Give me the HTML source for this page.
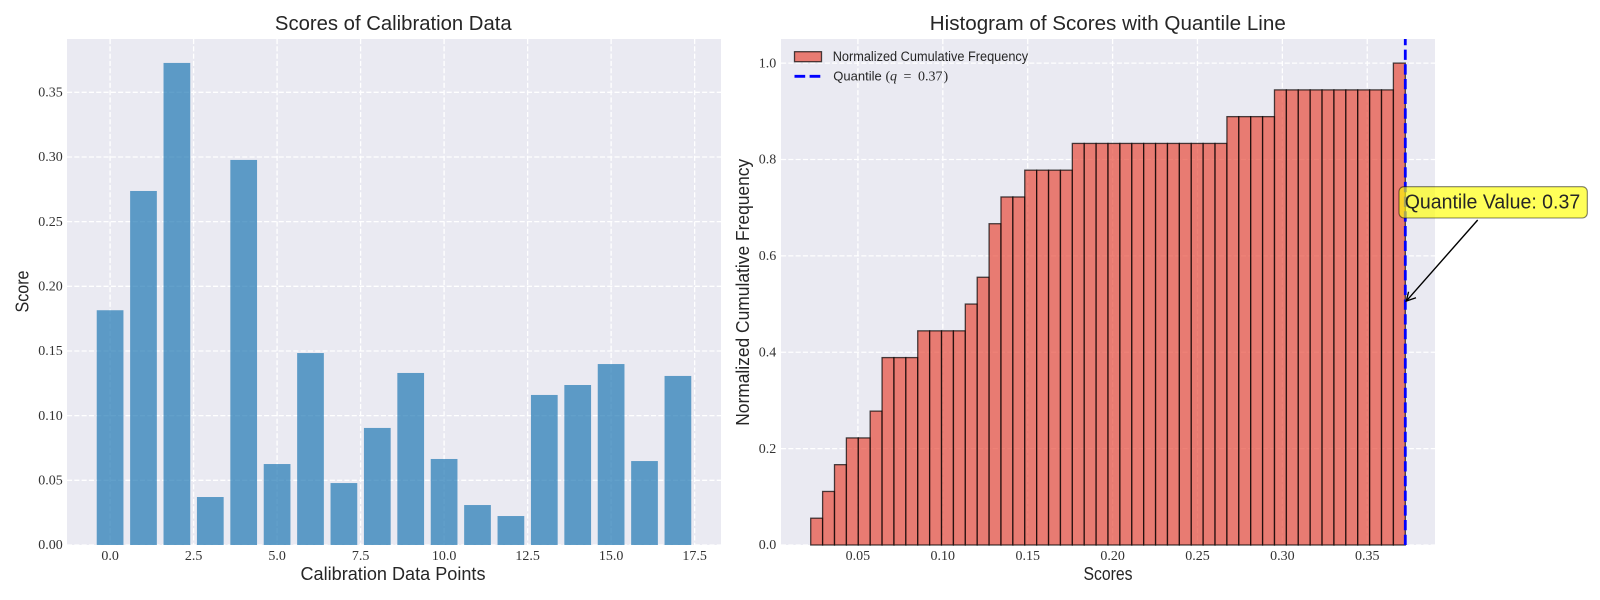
<!DOCTYPE html>
<html>
<head>
<meta charset="utf-8">
<title>Calibration Scores</title>
<style>
html,body{margin:0;padding:0;background:#fff;}
svg{display:block;}
.sans{font-family:"Liberation Sans",sans-serif;fill:#262626;}
.serif{font-family:"Liberation Serif",serif;fill:#333;}
</style>
</head>
<body>
<svg id="chart" xmlns="http://www.w3.org/2000/svg" width="1600" height="600" viewBox="0 0 1600 600">
  <rect x="0" y="0" width="1600" height="600" fill="#fff"/>
  <rect x="67" y="39" width="654" height="506" fill="#eaeaf2"/>
  <rect x="781" y="39" width="654" height="506" fill="#eaeaf2"/>
  <g id="leftGrid"></g>
  <g id="rightGrid"></g>
  <g id="bars"></g>
  <g id="hist"></g>
  <g id="quantile"></g>
  <g id="ticks"></g>

  <text class="sans" x="393.3" y="30" text-anchor="middle" font-size="20" textLength="236.7" lengthAdjust="spacingAndGlyphs">Scores of Calibration Data</text>
  <text class="sans" x="1107.8" y="30" text-anchor="middle" font-size="20" textLength="356" lengthAdjust="spacingAndGlyphs">Histogram of Scores with Quantile Line</text>
  <text class="sans" x="393" y="580" text-anchor="middle" font-size="18" textLength="185" lengthAdjust="spacingAndGlyphs">Calibration Data Points</text>
  <text class="sans" x="1108" y="580" text-anchor="middle" font-size="18" textLength="49" lengthAdjust="spacingAndGlyphs">Scores</text>
  <text class="sans" transform="translate(28.7,291.5) rotate(-90)" text-anchor="middle" font-size="18" textLength="42" lengthAdjust="spacingAndGlyphs">Score</text>
  <text class="sans" transform="translate(749,292.3) rotate(-90)" text-anchor="middle" font-size="18" textLength="267" lengthAdjust="spacingAndGlyphs">Normalized Cumulative Frequency</text>

  <g>
    <rect x="794.5" y="51.7" width="27" height="10" fill="#e74c3c" fill-opacity="0.7" stroke="#000" stroke-opacity="0.7" stroke-width="1.3"/>
    <text class="sans" x="832.7" y="61" font-size="13.5" textLength="195.5" lengthAdjust="spacingAndGlyphs">Normalized Cumulative Frequency</text>
    <line x1="794.5" y1="76.3" x2="821" y2="76.3" stroke="#0000ff" stroke-width="2.8" stroke-dasharray="10.7,4.4"/>
    <text class="sans" y="80.3" font-size="13"><tspan x="833.3">Quantile</tspan><tspan x="885.5" font-family="Liberation Serif, serif" font-size="14">(</tspan><tspan x="890" font-family="Liberation Serif, serif" font-style="italic" font-size="14">q</tspan><tspan x="903.5" font-family="Liberation Serif, serif" font-size="14">=</tspan><tspan x="918" font-family="Liberation Serif, serif" font-size="14">0.37</tspan><tspan x="943.5" font-family="Liberation Serif, serif" font-size="14">)</tspan></text>
  </g>

  <g>
    <g id="arrow"></g>
    <rect x="1399" y="186.7" width="188.3" height="31.3" rx="5" ry="5" fill="#ffff00" fill-opacity="0.65" stroke="#000" stroke-opacity="0.5" stroke-width="1.1"/>
    <text id="annotationText" class="sans" x="1404.7" y="208.3" font-size="20" textLength="175.5" lengthAdjust="spacingAndGlyphs">Quantile Value: 0.37</text>
  </g>
</svg>

<script>
const scoreIndex = [0,1,2,3,4,5,6,7,8,9,10,11,12,13,14,15,16,17];
const scoreValues = [0.1815,0.2737,0.3727,0.0371,0.2977,0.0626,0.1484,0.0479,0.0905,0.1330,0.0665,0.0309,0.0224,0.1160,0.1237,0.1399,0.0649,0.1307];
const scoreXTicks = [0,2.5,5,7.5,10,12.5,15,17.5];
const scoreXTickLabels = ["0.0","2.5","5.0","7.5","10.0","12.5","15.0","17.5"];
const scoreYTicks = [0,0.05,0.10,0.15,0.20,0.25,0.30,0.35];
const scoreYTickLabels = ["0.00","0.05","0.10","0.15","0.20","0.25","0.30","0.35"];

const histBinEdgeStart = [0.0222];
const histBinWidth = [0.007004];
const histValues = [0.0556,0.1111,0.1667,0.2222,0.2222,0.2778,0.3889,0.3889,0.3889,0.4444,0.4444,0.4444,0.4444,0.5000,0.5556,0.6667,0.7222,0.7222,0.7778,0.7778,0.7778,0.7778,0.8333,0.8333,0.8333,0.8333,0.8333,0.8333,0.8333,0.8333,0.8333,0.8333,0.8333,0.8333,0.8333,0.8889,0.8889,0.8889,0.8889,0.9444,0.9444,0.9444,0.9444,0.9444,0.9444,0.9444,0.9444,0.9444,0.9444,1.0000];
const histXTicks = [0.05,0.10,0.15,0.20,0.25,0.30,0.35];
const histXTickLabels = ["0.05","0.10","0.15","0.20","0.25","0.30","0.35"];
const histYTicks = [0,0.2,0.4,0.6,0.8,1.0];
const histYTickLabels = ["0.0","0.2","0.4","0.6","0.8","1.0"];
const quantileValue = [0.3724];
const annotationPointY = [0.5];

const NS = "http://www.w3.org/2000/svg";
function linear(d0, d1, r0, r1) {
  return function (v) { return r0 + (v - d0) * (r1 - r0) / (d1 - d0); };
}
const x1 = linear(-1.29, 18.29, 67, 721);
const y1 = linear(0, 0.3912, 545, 39);
const x2 = linear(0.0047, 0.3899, 781, 1435);
const y2 = linear(0, 1.05, 545, 39);

function make(tag, attrs) {
  const el = document.createElementNS(NS, tag);
  for (const k in attrs) el.setAttribute(k, attrs[k]);
  return el;
}

const gridStyle = { stroke: "#ffffff", "stroke-width": 1.3, "stroke-dasharray": "5.1,2.2" };

const leftGrid = document.getElementById("leftGrid");
scoreXTicks.forEach(function (t) {
  const el = make("line", Object.assign({ x1: x1(t), x2: x1(t), y1: 39, y2: 545 }, gridStyle));
  
  
  leftGrid.appendChild(el);
});
scoreYTicks.forEach(function (t) {
  const el = make("line", Object.assign({ x1: 67, x2: 721, y1: y1(t), y2: y1(t) }, gridStyle));
  
  
  leftGrid.appendChild(el);
});

const rightGrid = document.getElementById("rightGrid");
histXTicks.forEach(function (t) {
  const el = make("line", Object.assign({ x1: x2(t), x2: x2(t), y1: 39, y2: 545 }, gridStyle));
  
  
  rightGrid.appendChild(el);
});
histYTicks.forEach(function (t) {
  const el = make("line", Object.assign({ x1: 781, x2: 1435, y1: y2(t), y2: y2(t) }, gridStyle));
  
  
  rightGrid.appendChild(el);
});

const bars = document.getElementById("bars");
scoreValues.forEach(function (v, i) {
  const cx = scoreIndex[i];
  const el = make("rect", {
    x: x1(cx - 0.4), y: y1(v), width: x1(cx + 0.4) - x1(cx - 0.4), height: y1(0) - y1(v),
    fill: "#1f77b4", "fill-opacity": 0.7
  });
  
  
  bars.appendChild(el);
});

const hist = document.getElementById("hist");
histValues.forEach(function (v, i) {
  const lo = histBinEdgeStart[0] + i * histBinWidth[0];
  const hi = lo + histBinWidth[0];
  const el = make("rect", {
    x: x2(lo), y: y2(v), width: x2(hi) - x2(lo), height: y2(0) - y2(v),
    fill: "#e74c3c", "fill-opacity": 0.7, stroke: "#000", "stroke-opacity": 0.7, "stroke-width": 1.3
  });
  
  
  hist.appendChild(el);
});

const q = quantileValue[0];
const qLine = make("line", {
  x1: x2(q), x2: x2(q), y1: 545, y2: 39,
  stroke: "#0000ff", "stroke-width": 2.8, "stroke-dasharray": "10.3,4.4"
});


document.getElementById("quantile").appendChild(qLine);

const tipX = x2(q) + 1;
const tipY = y2(annotationPointY[0]) - 3;
const arrowGroup = document.getElementById("arrow");
const shaft = make("line", { x1: 1477.7, y1: 220, x2: tipX, y2: tipY, stroke: "#000", "stroke-width": 1.4 });


arrowGroup.appendChild(shaft);
const head = make("polyline", {
  points: (tipX + 2.3) + "," + (tipY - 9.3) + " " + tipX + "," + tipY + " " + (tipX + 9.7) + "," + (tipY - 3.3),
  fill: "none", stroke: "#000", "stroke-width": 1.4
});


arrowGroup.appendChild(head);

const ticks = document.getElementById("ticks");
function tickLabel(x, y, anchor, str, name) {
  const el = make("text", { x: x, y: y, "text-anchor": anchor, "font-size": 14, "class": "serif" });
  el.textContent = str;
  
  
  ticks.appendChild(el);
}
scoreXTicks.forEach(function (t, i) { tickLabel(x1(t), 560, "middle", scoreXTickLabels[i], "scores-x-tick-label"); });
scoreYTicks.forEach(function (t, i) { tickLabel(62.7, y1(t) + 4.2, "end", scoreYTickLabels[i], "scores-y-tick-label"); });
histXTicks.forEach(function (t, i) { tickLabel(x2(t), 560, "middle", histXTickLabels[i], "histogram-x-tick-label"); });
histYTicks.forEach(function (t, i) { tickLabel(776.2, y2(t) + 4.2, "end", histYTickLabels[i], "histogram-y-tick-label"); });
</script>
</body>
</html>
